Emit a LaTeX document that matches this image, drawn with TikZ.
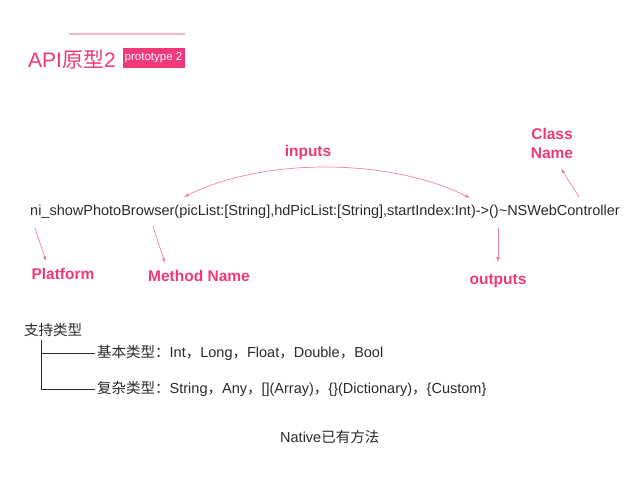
\documentclass[tikz,border=0pt]{standalone}
\usepackage{fontspec}
\setmainfont{Liberation Sans}
\newfontfamily\cjk{Noto Sans CJK SC}
\usepackage{tikz}
\usetikzlibrary{arrows}
\usetikzlibrary{positioning}
\usepackage{xcolor}
\definecolor{hotpink}{HTML}{F0387A}
\definecolor{palepink}{HTML}{F7B3CB}
\definecolor{arrowpink}{HTML}{F283A8}
\definecolor{textgray}{HTML}{2A2A2A}

\begin{document}
\begin{tikzpicture}[x=1pt,y=-1pt]
      \useasboundingbox (0,0) rectangle (640,480);
      \tikzstyle{every node}=[inner sep=0pt]
      \tikzstyle{tag}=[text=hotpink,font=\bfseries\fontsize{15.5}{18}\selectfont,align=center]
      \tikzstyle{plain}=[text=textgray,anchor=west,font=\fontsize{14.5}{17}\selectfont]
      \tikzstyle{pointer}=[draw=arrowpink,line width=0.7pt,-latex]

      % title
      \draw[palepink,line width=1.2pt] (69,34) -- (185,34);
      \node[anchor=base west,text=hotpink,font=\fontsize{21}{24}\selectfont] (title) at (28,67) {API{\cjk 原型}2};
      \node[fill=hotpink,text=white,font=\fontsize{11.5}{13}\selectfont,minimum width=62pt,minimum height=20pt] (proto) at (153.5,58) {prototype 2};

      % signature
      \node[anchor=west,text=textgray,font=\fontsize{14.5}{17}\selectfont] (sig) at (30,212)
           {ni\_showPhotoBrowser(picList:[String],hdPicList:[String],startIndex:Int)->()\textasciitilde NSWebController};

      \node[tag] (inputs)  at (308,152) {inputs};
      \node[tag] (clsname) at (552,143) {Class\\[1pt]Name};
      \node[tag] (platform) at (63,274) {Platform};
      \node[tag] (method)   at (199,276) {Method Name};
      \node[tag] (outputs)  at (498,281) {outputs};

      \coordinate (inL) at (184,197);
      \coordinate (inR) at (470,198);
      \coordinate (clsfoot) at (579,197);
      \coordinate (platfoot) at (35,228);
      \coordinate (methfoot) at (153,226);
      \coordinate (outfoot) at (498,228);

      \draw[pointer,latex-latex] (inL) .. controls +(80,-40) and +(-80,-40) .. (inR);
      \draw[pointer] (clsfoot) -- ([xshift=9pt,yshift=-10pt]clsname.south);
      \draw[pointer] (platfoot) -- ([xshift=-17pt,yshift=7pt]platform.north);
      \draw[pointer] (methfoot) -- ([xshift=-34pt,yshift=7pt]method.north);
      \draw[pointer] (outfoot) -- ([yshift=12pt]outputs.north);

      % supported types
      \node[plain] (support) at (24,330) {\cjk 支持类型};
      \node[plain,xshift=2pt] (basic)   at (95,353) {{\cjk 基本类型：}Int{\cjk ，}Long{\cjk ，}Float{\cjk ，}Double{\cjk ，}Bool};
      \node[plain,xshift=2pt] (complex) at (95,389) {{\cjk 复杂类型：}String{\cjk ，}Any{\cjk ，}[](Array){\cjk ，}\{\}(Dictionary){\cjk ，}\{Custom\}};
      \coordinate (stem) at (41,340);
      \draw[textgray,line width=0.7pt] (stem) |- ([xshift=-2pt]basic.west);
      \draw[textgray,line width=0.7pt] (stem) |- ([xshift=-2pt]complex.west);

      \node[plain] (native) at (280,437) {Native{\cjk 已有方法}};
    \end{tikzpicture}
\end{document}
